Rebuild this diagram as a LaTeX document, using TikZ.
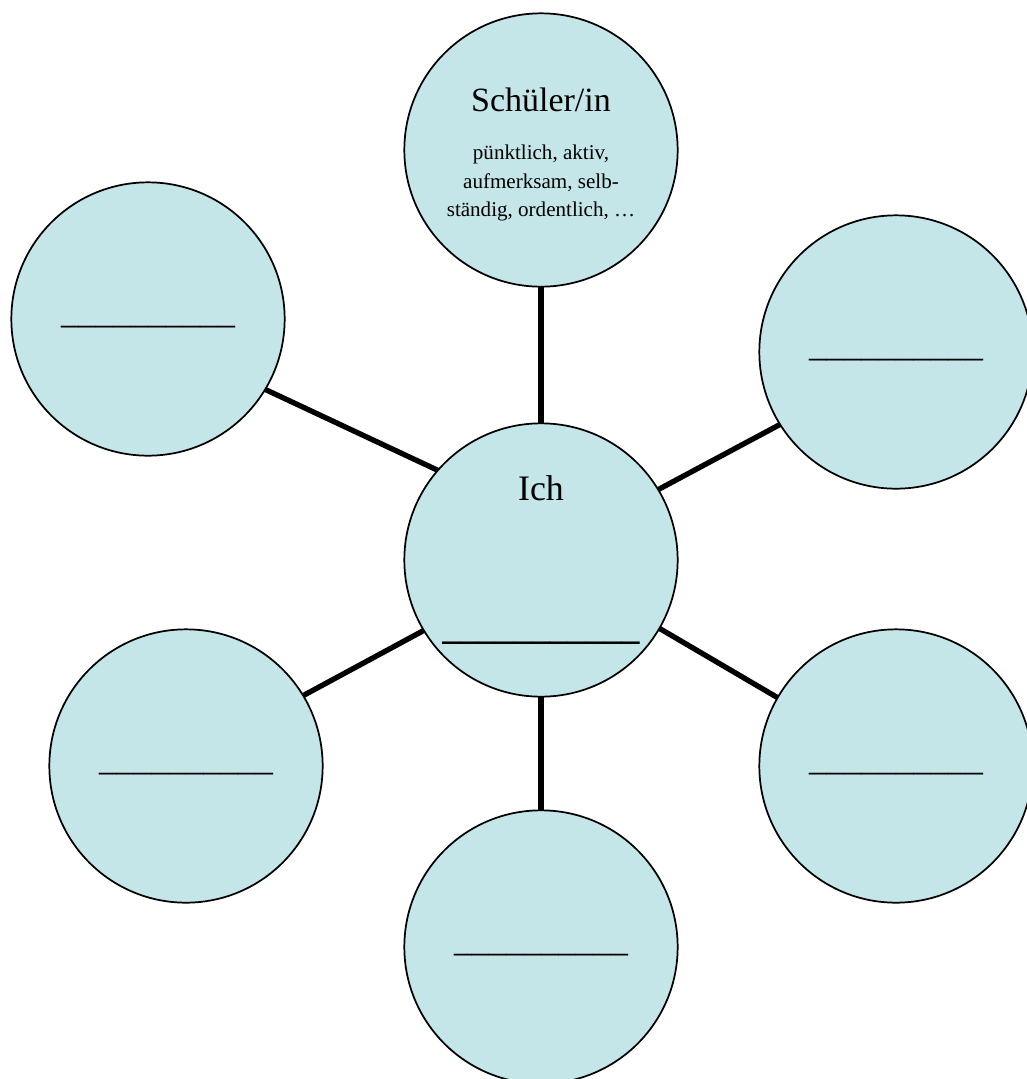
\documentclass[tikz,border=0pt]{standalone}
\usepackage{fontspec}
\setmainfont{Liberation Serif}
\usetikzlibrary{positioning}

\definecolor{bubblefill}{RGB}{196,230,232}
\newcommand{\blankline}{\_\_\_\_\_\_\_\_\_\_}

\tikzset{
  bubble/.style={circle, draw, line width=1.3pt, fill=bubblefill,
    minimum size=205pt, inner sep=0pt, outer sep=0pt},
  blank/.style={bubble, font=\fontsize{26.1pt}{31pt}\selectfont,
    text height=6.75pt, text depth=0pt},
  spoke/.style={line width=4pt}
}

\begin{document}
\begin{tikzpicture}[on grid, auto]
		\useasboundingbox (0,0) rectangle (770.25pt,-809.25pt);
		
		\node[bubble, align=center, font=\fontsize{26.9pt}{32pt}\selectfont] (ich) at (405.75pt,-420pt)
		{Ich\\[72.6pt]{\bfseries\_\_\_\_\_\_\_\_\_\_\_}};
		
		\node[bubble, above = 307.5pt of ich, align=center,
		font=\fontsize{15.8pt}{21.4pt}\selectfont] (schueler)
		{{\fontsize{25.5pt}{30pt}\selectfont\rule{0pt}{25pt}Schüler/in}\\[14.6pt]
		pünktlich, aktiv,\\ aufmerksam, selb-\\ständig, ordentlich, …};
		
		\node[blank, above left = 180.75pt and 294.75pt of ich] (tl) {\blankline};
		\node[blank, above right = 156pt and 266.25pt of ich] (tr) {\blankline};
		\node[blank, below left = 154.5pt and 266.25pt of ich] (bl) {\blankline};
		\node[blank, below right = 154.5pt and 266.25pt of ich] (br) {\blankline};
		\node[blank, below = 290.25pt of ich] (bot) {\blankline};
		
		\path[spoke] (ich.90) edge (schueler.-90)
		(ich.139) edge (tl.-31)
		(ich.31) edge (tr.-148)
		(ich.-149) edge (bl.31)
		(ich.-30) edge (br.150)
		(ich.-90) edge (bot.90);
		
\end{tikzpicture}
\end{document}
